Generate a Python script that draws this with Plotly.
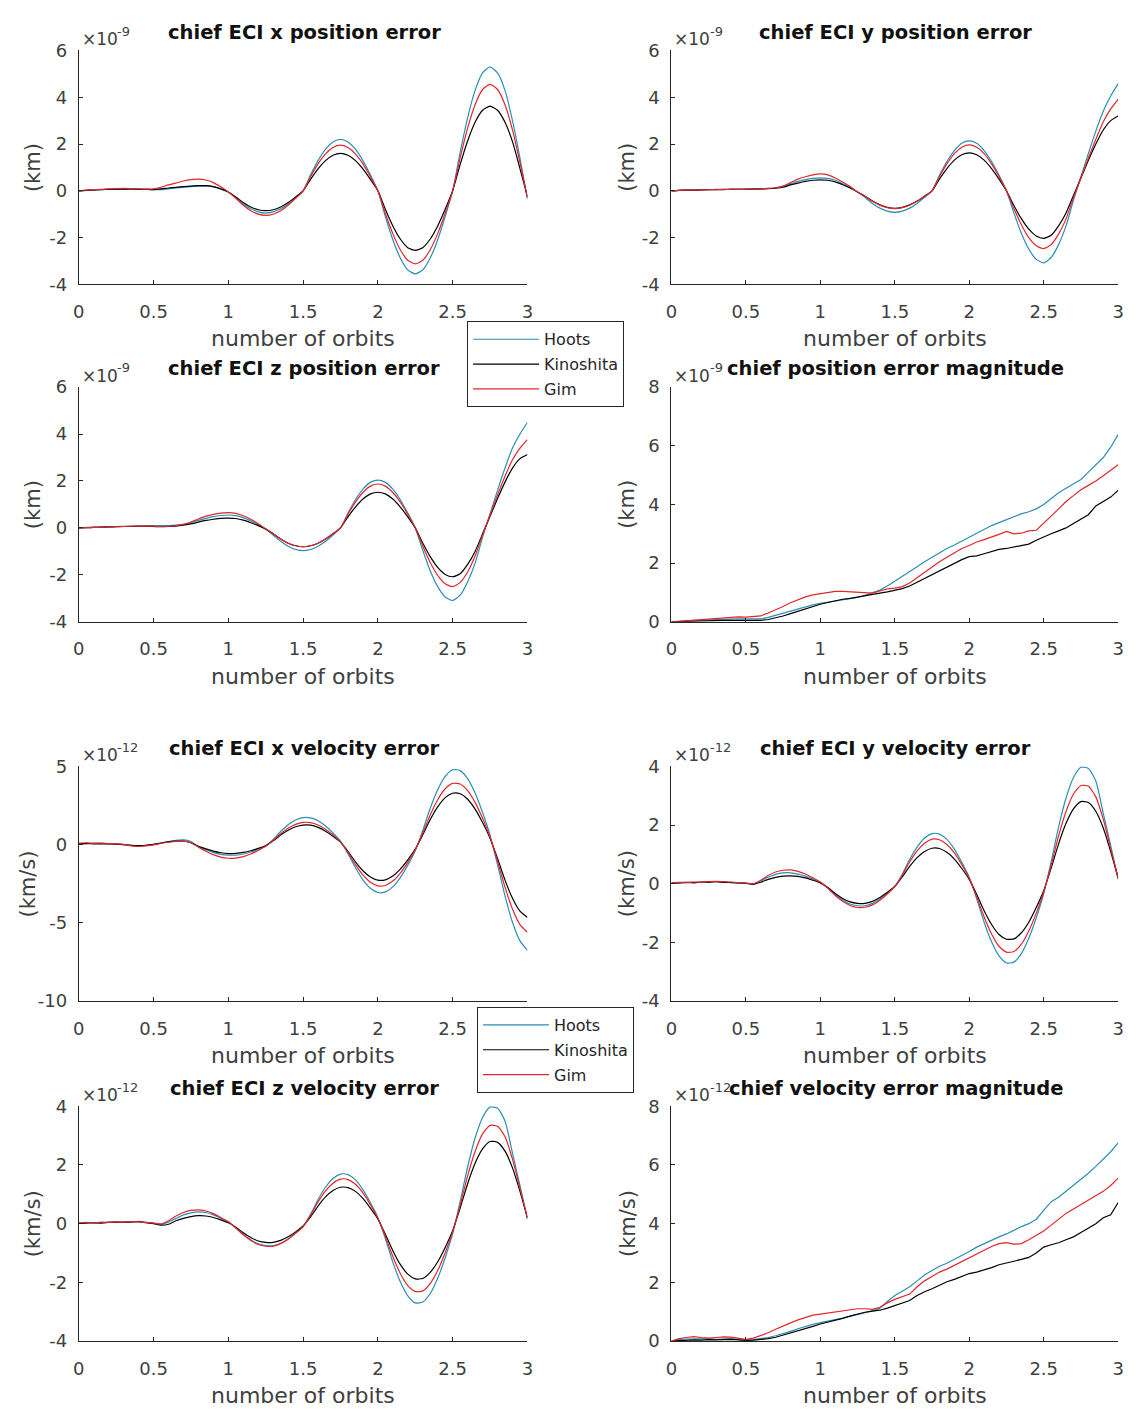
import plotly.graph_objects as go

W, H = 1138, 1420

# ---------------- data ----------------
orbits = [0.0, 0.05, 0.1, 0.15, 0.2, 0.25, 0.3, 0.35, 0.4, 0.45,
          0.5, 0.55, 0.6, 0.65, 0.7, 0.75, 0.8, 0.85, 0.9, 0.95,
          1.0, 1.05, 1.1, 1.15, 1.2, 1.25, 1.3, 1.35, 1.4, 1.45,
          1.5, 1.55, 1.6, 1.65, 1.7, 1.75, 1.8, 1.85, 1.9, 1.95,
          2.0, 2.05, 2.1, 2.15, 2.2, 2.25, 2.3, 2.35, 2.4, 2.45,
          2.5, 2.55, 2.6, 2.65, 2.7, 2.75, 2.8, 2.85, 2.9, 2.95,
          3.0]

series_names = ["Hoots", "Kinoshita", "Gim"]
x_ticks = [0, 0.5, 1, 1.5, 2, 2.5, 3]
x_ticktext = ["0", "0.5", "1", "1.5", "2", "2.5", "3"]

# chief ECI x position error (x 1e-9 km)
pos_x_hoots = [0.0, 0.02, 0.03, 0.05, 0.06, 0.06, 0.07, 0.07, 0.07, 0.06,
               0.05, 0.05, 0.08, 0.12, 0.15, 0.18, 0.2, 0.2, 0.17, 0.08,
               -0.05, -0.29, -0.56, -0.77, -0.9, -0.95, -0.9, -0.77, -0.56, -0.29,
               0.0, 0.68, 1.29, 1.78, 2.09, 2.2, 2.09, 1.78, 1.29, 0.68,
               0.0, -1.1, -2.09, -2.87, -3.38, -3.55, -3.38, -2.87, -2.09, -1.1,
               0.0, 1.64, 3.12, 4.29, 5.04, 5.3, 5.04, 4.29, 3.0, 1.4,
               -0.35]
pos_x_kinoshita = [0.0, 0.02, 0.04, 0.05, 0.06, 0.07, 0.07, 0.08, 0.07, 0.06,
                   0.05, 0.08, 0.12, 0.15, 0.18, 0.2, 0.22, 0.22, 0.18, 0.08,
                   -0.05, -0.26, -0.5, -0.69, -0.81, -0.85, -0.81, -0.69, -0.5, -0.26,
                   0.0, 0.49, 0.94, 1.29, 1.52, 1.6, 1.52, 1.29, 0.94, 0.49,
                   0.0, -0.79, -1.5, -2.06, -2.43, -2.55, -2.43, -2.06, -1.5, -0.79,
                   0.0, 1.12, 2.13, 2.93, 3.44, 3.62, 3.44, 2.93, 2.1, 0.95,
                   -0.25]
pos_x_gim = [0.0, 0.03, 0.05, 0.06, 0.08, 0.09, 0.1, 0.09, 0.08, 0.07,
             0.08, 0.15, 0.25, 0.33, 0.42, 0.48, 0.5, 0.46, 0.35, 0.17,
             -0.05, -0.32, -0.62, -0.85, -1.0, -1.05, -1.0, -0.85, -0.62, -0.32,
             0.0, 0.6, 1.15, 1.58, 1.85, 1.95, 1.85, 1.58, 1.15, 0.6,
             0.0, -0.96, -1.83, -2.52, -2.97, -3.12, -2.97, -2.52, -1.83, -0.96,
             0.0, 1.41, 2.68, 3.68, 4.33, 4.55, 4.33, 3.68, 2.6, 1.2,
             -0.3]

# chief ECI y position error (x 1e-9 km)
pos_y_hoots = [0.0, 0.02, 0.03, 0.04, 0.05, 0.05, 0.06, 0.06, 0.07, 0.07,
               0.07, 0.08, 0.09, 0.1, 0.12, 0.2, 0.3, 0.4, 0.48, 0.53,
               0.55, 0.53, 0.45, 0.3, 0.15, -0.05, -0.28, -0.54, -0.74, -0.87,
               -0.92, -0.87, -0.74, -0.54, -0.28, 0.0, 0.66, 1.25, 1.72, 2.03,
               2.13, 2.03, 1.72, 1.25, 0.66, 0.0, -0.95, -1.81, -2.49, -2.93,
               -3.08, -2.85, -2.3, -1.5, -0.4, 0.6, 1.6, 2.55, 3.4, 4.05,
               4.58]
pos_y_kinoshita = [0.0, 0.02, 0.03, 0.03, 0.04, 0.05, 0.05, 0.05, 0.06, 0.06,
                   0.06, 0.07, 0.08, 0.09, 0.11, 0.15, 0.25, 0.33, 0.4, 0.45,
                   0.47, 0.45, 0.38, 0.26, 0.12, -0.05, -0.23, -0.44, -0.6, -0.71,
                   -0.75, -0.71, -0.6, -0.44, -0.23, 0.0, 0.5, 0.95, 1.31, 1.54,
                   1.62, 1.54, 1.31, 0.95, 0.5, 0.0, -0.63, -1.19, -1.64, -1.93,
                   -2.03, -1.9, -1.5, -0.95, -0.2, 0.55, 1.3, 2.0, 2.6, 3.0,
                   3.2]
pos_y_gim = [0.0, 0.02, 0.03, 0.04, 0.04, 0.05, 0.05, 0.06, 0.06, 0.06,
             0.07, 0.07, 0.08, 0.1, 0.13, 0.2, 0.35, 0.5, 0.6, 0.68,
             0.72, 0.68, 0.55, 0.38, 0.18, -0.05, -0.23, -0.45, -0.61, -0.72,
             -0.76, -0.72, -0.61, -0.45, -0.23, 0.0, 0.61, 1.15, 1.59, 1.86,
             1.96, 1.86, 1.59, 1.15, 0.61, 0.0, -0.76, -1.45, -2.0, -2.35,
             -2.47, -2.3, -1.85, -1.2, -0.3, 0.55, 1.4, 2.2, 2.95, 3.5,
             3.91]

# chief ECI z position error (x 1e-9 km)
pos_z_hoots = [0.0, 0.02, 0.03, 0.04, 0.05, 0.06, 0.07, 0.08, 0.08, 0.09,
               0.1, 0.1, 0.1, 0.12, 0.15, 0.22, 0.32, 0.41, 0.48, 0.53,
               0.55, 0.52, 0.44, 0.3, 0.14, -0.06, -0.3, -0.57, -0.78, -0.92,
               -0.97, -0.92, -0.78, -0.57, -0.3, 0.0, 0.63, 1.2, 1.65, 1.94,
               2.04, 1.94, 1.65, 1.2, 0.63, 0.0, -0.95, -1.82, -2.5, -2.94,
               -3.09, -2.86, -2.3, -1.5, -0.4, 0.6, 1.6, 2.55, 3.4, 4.0,
               4.5]
pos_z_kinoshita = [0.0, 0.01, 0.02, 0.03, 0.04, 0.05, 0.06, 0.06, 0.07, 0.07,
                   0.06, 0.05, 0.06, 0.08, 0.12, 0.17, 0.25, 0.32, 0.37, 0.41,
                   0.42, 0.4, 0.33, 0.22, 0.1, -0.05, -0.25, -0.47, -0.65, -0.76,
                   -0.8, -0.76, -0.65, -0.47, -0.25, 0.0, 0.47, 0.89, 1.23, 1.45,
                   1.52, 1.45, 1.23, 0.89, 0.47, 0.0, -0.64, -1.22, -1.68, -1.98,
                   -2.08, -1.95, -1.55, -1.0, -0.25, 0.5, 1.25, 1.95, 2.55, 2.95,
                   3.13]
pos_z_gim = [0.0, 0.01, 0.02, 0.03, 0.04, 0.05, 0.06, 0.07, 0.08, 0.08,
             0.07, 0.06, 0.07, 0.1, 0.15, 0.25, 0.38, 0.5, 0.58, 0.63,
             0.65, 0.62, 0.52, 0.37, 0.18, -0.04, -0.25, -0.47, -0.65, -0.76,
             -0.8, -0.76, -0.65, -0.47, -0.25, 0.0, 0.58, 1.1, 1.51, 1.78,
             1.87, 1.78, 1.51, 1.1, 0.58, 0.0, -0.77, -1.47, -2.02, -2.38,
             -2.5, -2.32, -1.88, -1.2, -0.3, 0.55, 1.4, 2.2, 2.9, 3.4,
             3.76]

# chief position error magnitude (x 1e-9 km)
pos_mag_hoots = [0.0, 0.02, 0.03, 0.05, 0.06, 0.07, 0.08, 0.1, 0.1, 0.1,
                 0.1, 0.09, 0.1, 0.15, 0.22, 0.3, 0.38, 0.45, 0.52, 0.58,
                 0.63, 0.67, 0.72, 0.75, 0.78, 0.83, 0.9, 0.98, 1.08, 1.22,
                 1.38, 1.55, 1.72, 1.88, 2.05, 2.2, 2.35, 2.5, 2.62, 2.75,
                 2.9, 3.02, 3.15, 3.28, 3.38, 3.48, 3.58, 3.68, 3.75, 3.85,
                 4.0, 4.2, 4.4, 4.55, 4.7, 4.85, 5.1, 5.35, 5.6, 5.95,
                 6.38]
pos_mag_kinoshita = [0.0, 0.01, 0.02, 0.03, 0.04, 0.05, 0.05, 0.05, 0.05, 0.05,
                     0.05, 0.04, 0.05, 0.08, 0.13, 0.2, 0.28, 0.36, 0.45, 0.53,
                     0.6, 0.66, 0.72, 0.77, 0.8, 0.85, 0.9, 0.95, 0.98, 1.02,
                     1.07, 1.13, 1.22, 1.35, 1.48, 1.6, 1.75, 1.88, 2.0, 2.12,
                     2.22, 2.25, 2.32, 2.4, 2.47, 2.5, 2.55, 2.58, 2.65, 2.78,
                     2.9, 3.0, 3.1, 3.2, 3.35, 3.5, 3.65, 3.95, 4.1, 4.25,
                     4.48]
pos_mag_gim = [0.0, 0.02, 0.04, 0.07, 0.09, 0.1, 0.12, 0.15, 0.17, 0.17,
               0.16, 0.17, 0.2, 0.3, 0.4, 0.52, 0.65, 0.76, 0.85, 0.92,
               0.96, 1.0, 1.04, 1.04, 1.02, 1.02, 1.0, 0.98, 1.05, 1.12,
               1.15, 1.2, 1.32, 1.5, 1.7, 1.88, 2.05, 2.2, 2.35, 2.5,
               2.6, 2.72, 2.8, 2.88, 2.98, 3.08, 3.0, 3.02, 3.1, 3.12,
               3.35, 3.6, 3.85, 4.1, 4.3, 4.5, 4.65, 4.8, 4.98, 5.15,
               5.35]

# chief ECI x velocity error (x 1e-12 km/s)
vel_x_hoots = [0.05, 0.08, 0.1, 0.08, 0.05, 0.03, 0.0, -0.05, -0.08, -0.05,
               0.0, 0.1, 0.2, 0.28, 0.3, 0.2, -0.13, -0.33, -0.5, -0.62,
               -0.67, -0.67, -0.6, -0.47, -0.29, -0.09, 0.33, 0.84, 1.27, 1.57,
               1.73, 1.71, 1.52, 1.19, 0.74, 0.22, -0.58, -1.48, -2.25, -2.79,
               -3.06, -3.02, -2.7, -2.11, -1.31, -0.39, 0.9, 2.32, 3.51, 4.36,
               4.78, 4.73, 4.22, 3.3, 2.05, 0.6, -1.27, -3.28, -4.96, -6.15,
               -6.75]
vel_x_kinoshita = [0.05, 0.06, 0.05, 0.05, 0.04, 0.03, 0.0, -0.04, -0.06, -0.04,
                   0.02, 0.1, 0.18, 0.22, 0.22, 0.12, -0.11, -0.27, -0.42, -0.52,
                   -0.57, -0.56, -0.5, -0.39, -0.24, -0.07, 0.24, 0.61, 0.92, 1.14,
                   1.25, 1.24, 1.1, 0.86, 0.54, 0.16, -0.43, -1.1, -1.67, -2.07,
                   -2.27, -2.25, -2.01, -1.57, -0.98, -0.29, 0.62, 1.6, 2.41, 3.0,
                   3.28, 3.25, 2.9, 2.27, 1.41, 0.41, -0.88, -2.27, -3.43, -4.25,
                   -4.65]
vel_x_gim = [0.1, 0.12, 0.08, 0.1, 0.06, 0.05, 0.02, -0.08, -0.12, -0.08,
             -0.02, 0.08, 0.15, 0.2, 0.22, 0.12, -0.16, -0.42, -0.64, -0.8,
             -0.87, -0.86, -0.77, -0.6, -0.37, -0.11, 0.27, 0.69, 1.04, 1.29,
             1.42, 1.4, 1.25, 0.98, 0.61, 0.18, -0.5, -1.28, -1.94, -2.41,
             -2.64, -2.61, -2.33, -1.82, -1.13, -0.33, 0.74, 1.9, 2.87, 3.57,
             3.91, 3.87, 3.45, 2.7, 1.68, 0.49, -1.06, -2.72, -4.12, -5.11,
             -5.6]

# chief ECI y velocity error (x 1e-12 km/s)
vel_y_hoots = [0.02, 0.03, 0.04, 0.03, 0.05, 0.06, 0.07, 0.06, 0.05, 0.03,
               0.02, 0.0, 0.1, 0.22, 0.32, 0.37, 0.37, 0.33, 0.26, 0.16,
               0.05, -0.14, -0.37, -0.55, -0.69, -0.75, -0.75, -0.67, -0.52, -0.32,
               -0.1, 0.32, 0.83, 1.25, 1.56, 1.71, 1.69, 1.51, 1.18, 0.73,
               0.22, -0.51, -1.31, -1.98, -2.46, -2.7, -2.67, -2.38, -1.86, -1.16,
               -0.34, 0.75, 1.93, 2.92, 3.62, 3.97, 3.93, 3.5, 2.4, 1.3,
               0.15]
vel_y_kinoshita = [0.02, 0.03, 0.05, 0.04, 0.06, 0.05, 0.07, 0.05, 0.04, 0.03,
                   0.01, -0.02, 0.05, 0.15, 0.22, 0.26, 0.27, 0.25, 0.2, 0.12,
                   0.03, -0.13, -0.33, -0.5, -0.62, -0.67, -0.67, -0.6, -0.47, -0.29,
                   -0.09, 0.23, 0.59, 0.89, 1.1, 1.21, 1.2, 1.07, 0.84, 0.52,
                   0.15, -0.36, -0.92, -1.39, -1.73, -1.89, -1.88, -1.67, -1.31, -0.81,
                   -0.24, 0.53, 1.36, 2.06, 2.55, 2.8, 2.77, 2.47, 1.9, 1.1,
                   0.2]
vel_y_gim = [0.03, 0.05, 0.04, 0.06, 0.05, 0.07, 0.08, 0.07, 0.06, 0.04,
             0.02, 0.0, 0.12, 0.28, 0.4, 0.46, 0.47, 0.42, 0.33, 0.2,
             0.06, -0.15, -0.4, -0.6, -0.74, -0.81, -0.8, -0.72, -0.56, -0.35,
             -0.1, 0.29, 0.74, 1.12, 1.38, 1.52, 1.5, 1.34, 1.05, 0.65,
             0.19, -0.44, -1.13, -1.71, -2.13, -2.33, -2.31, -2.06, -1.61, -1.0,
             -0.29, 0.63, 1.63, 2.46, 3.06, 3.35, 3.32, 2.96, 2.2, 1.2,
             0.2]

# chief ECI z velocity error (x 1e-12 km/s)
vel_z_hoots = [0.02, 0.03, 0.02, 0.03, 0.05, 0.04, 0.06, 0.05, 0.08, 0.04,
               0.02, -0.02, 0.05, 0.18, 0.3, 0.37, 0.4, 0.38, 0.3, 0.18,
               0.06, -0.14, -0.37, -0.55, -0.69, -0.75, -0.75, -0.67, -0.52, -0.32,
               -0.1, 0.32, 0.82, 1.24, 1.54, 1.69, 1.67, 1.49, 1.16, 0.72,
               0.21, -0.51, -1.31, -1.98, -2.46, -2.7, -2.67, -2.38, -1.86, -1.16,
               -0.34, 0.75, 1.93, 2.92, 3.62, 3.97, 3.93, 3.5, 2.4, 1.3,
               0.15]
vel_z_kinoshita = [0.01, 0.02, 0.03, 0.02, 0.04, 0.05, 0.04, 0.06, 0.07, 0.03,
                   0.0, -0.05, -0.02, 0.1, 0.18, 0.24, 0.27, 0.26, 0.21, 0.13,
                   0.03, -0.12, -0.31, -0.47, -0.59, -0.64, -0.64, -0.57, -0.45, -0.28,
                   -0.08, 0.23, 0.6, 0.91, 1.13, 1.24, 1.23, 1.1, 0.86, 0.53,
                   0.16, -0.36, -0.92, -1.39, -1.72, -1.88, -1.87, -1.66, -1.3, -0.81,
                   -0.24, 0.53, 1.36, 2.06, 2.55, 2.8, 2.77, 2.47, 1.9, 1.1,
                   0.2]
vel_z_gim = [0.02, 0.04, 0.03, 0.05, 0.04, 0.06, 0.05, 0.07, 0.06, 0.04,
             0.02, -0.01, 0.1, 0.26, 0.38, 0.45, 0.47, 0.43, 0.34, 0.21,
             0.07, -0.15, -0.38, -0.57, -0.71, -0.77, -0.77, -0.68, -0.53, -0.33,
             -0.1, 0.29, 0.74, 1.12, 1.38, 1.52, 1.5, 1.34, 1.05, 0.65,
             0.19, -0.44, -1.12, -1.7, -2.11, -2.31, -2.29, -2.04, -1.6, -0.99,
             -0.29, 0.63, 1.63, 2.46, 3.06, 3.35, 3.32, 2.96, 2.2, 1.2,
             0.2]

# chief velocity error magnitude (x 1e-12 km/s)
vel_mag_hoots = [0.0, 0.05, 0.07, 0.08, 0.07, 0.08, 0.06, 0.07, 0.08, 0.06,
                 0.03, 0.05, 0.08, 0.12, 0.18, 0.25, 0.33, 0.42, 0.5, 0.57,
                 0.63, 0.68, 0.72, 0.78, 0.85, 0.9, 0.97, 1.03, 1.12, 1.35,
                 1.55, 1.7, 1.85, 2.05, 2.25, 2.4, 2.55, 2.65, 2.78, 2.92,
                 3.05, 3.2, 3.32, 3.45, 3.55, 3.65, 3.78, 3.9, 4.0, 4.15,
                 4.45, 4.75, 4.9, 5.1, 5.3, 5.5, 5.72, 5.95, 6.2, 6.45,
                 6.75]
vel_mag_kinoshita = [0.0, 0.02, 0.03, 0.04, 0.03, 0.05, 0.04, 0.05, 0.06, 0.04,
                     0.02, 0.03, 0.05, 0.08, 0.13, 0.2, 0.28, 0.35, 0.42, 0.5,
                     0.58, 0.64, 0.7, 0.77, 0.85, 0.92, 0.98, 1.02, 1.05, 1.12,
                     1.2, 1.3, 1.38, 1.55, 1.68, 1.78, 1.9, 2.02, 2.1, 2.2,
                     2.3, 2.35, 2.42, 2.5, 2.6, 2.65, 2.72, 2.78, 2.85, 3.0,
                     3.2, 3.28, 3.35, 3.45, 3.55, 3.7, 3.85, 4.0, 4.2, 4.3,
                     4.72]
vel_mag_gim = [0.0, 0.08, 0.12, 0.15, 0.12, 0.1, 0.12, 0.14, 0.13, 0.1,
               0.06, 0.1, 0.18, 0.28, 0.4, 0.52, 0.62, 0.72, 0.8, 0.88,
               0.92, 0.96, 1.0, 1.02, 1.08, 1.1, 1.1, 1.08, 1.15, 1.3,
               1.42, 1.5, 1.6, 1.85, 2.05, 2.2, 2.35, 2.45, 2.58, 2.7,
               2.82, 2.95, 3.08, 3.22, 3.32, 3.35, 3.3, 3.32, 3.45, 3.6,
               3.75, 3.95, 4.15, 4.35, 4.5, 4.65, 4.8, 4.95, 5.1, 5.3,
               5.55]

# ---------------- styling ----------------
colors = {"Hoots": "#2a8fb4", "Kinoshita": "#000000", "Gim": "#e3262a"}
FONT = "DejaVu Sans"
AX = "#262626"
TXT = "#404040"

col_px = [(73.5, 527), (672.5, 1124)]
row_px = [(40, 277.5), (381.7, 620), (766.7, 1005), (1111.7, 1350)]


def px_x(p):
    return p / W


def px_y(p):
    return 1 - p / H


panels = [
    dict(title="chief ECI x position error", unit="(km)", exp="-9", yr=(-4, 6),
         yt=[-4, -2, 0, 2, 4, 6], data=(pos_x_hoots, pos_x_kinoshita, pos_x_gim),
         rc=(0, 0), shape="spline", ulx=28),
    dict(title="chief ECI y position error", unit="(km)", exp="-9", yr=(-4, 6),
         yt=[-4, -2, 0, 2, 4, 6], data=(pos_y_hoots, pos_y_kinoshita, pos_y_gim),
         rc=(0, 1), shape="spline", ulx=628),
    dict(title="chief ECI z position error", unit="(km)", exp="-9", yr=(-4, 6),
         yt=[-4, -2, 0, 2, 4, 6], data=(pos_z_hoots, pos_z_kinoshita, pos_z_gim),
         rc=(1, 0), shape="spline", ulx=28),
    dict(title="chief position error magnitude", unit="(km)", exp="-9", yr=(0, 8),
         yt=[0, 2, 4, 6, 8], data=(pos_mag_hoots, pos_mag_kinoshita, pos_mag_gim),
         rc=(1, 1), shape="linear", ulx=628),
    dict(title="chief ECI x velocity error", unit="(km/s)", exp="-12", yr=(-10, 5),
         yt=[-10, -5, 0, 5], data=(vel_x_hoots, vel_x_kinoshita, vel_x_gim),
         rc=(2, 0), shape="spline", ulx=22),
    dict(title="chief ECI y velocity error", unit="(km/s)", exp="-12", yr=(-4, 4),
         yt=[-4, -2, 0, 2, 4], data=(vel_y_hoots, vel_y_kinoshita, vel_y_gim),
         rc=(2, 1), shape="spline", ulx=627),
    dict(title="chief ECI z velocity error", unit="(km/s)", exp="-12", yr=(-4, 4),
         yt=[-4, -2, 0, 2, 4], data=(vel_z_hoots, vel_z_kinoshita, vel_z_gim),
         rc=(3, 0), shape="spline", ulx=27),
    dict(title="chief velocity error magnitude", unit="(km/s)", exp="-12", yr=(0, 8),
         yt=[0, 2, 4, 6, 8], data=(vel_mag_hoots, vel_mag_kinoshita, vel_mag_gim),
         rc=(3, 1), shape="linear", ulx=628),
]

fig = go.Figure()
layout = dict(
    width=W, height=H, autosize=False,
    margin=dict(l=0, r=0, t=0, b=0),
    paper_bgcolor="white", plot_bgcolor="white",
    font=dict(family=FONT, color=TXT),
    showlegend=True,
)
annotations = []

for i, p in enumerate(panels):
    k = i + 1
    xa = "x" if k == 1 else "x%d" % k
    ya = "y" if k == 1 else "y%d" % k
    r, c = p["rc"]
    x0, x1 = col_px[c]
    y0, y1 = row_px[r]

    legend_ref = None
    if k == 1:
        legend_ref = "legend"
    elif k == 5:
        legend_ref = "legend2"

    for name, vals in zip(series_names, p["data"]):
        fig.add_trace(go.Scatter(
            x=orbits, y=vals, mode="lines", name=name,
            line=dict(color=colors[name], width=1.2, shape=p["shape"], smoothing=0.6),
            xaxis=xa, yaxis=ya,
            showlegend=legend_ref is not None,
            legend=legend_ref if legend_ref else "legend",
            legendgroup=name + ("b" if k >= 5 else "a"),
            hoverinfo="skip",
        ))

    axis_common = dict(
        showline=True, linecolor=AX, linewidth=1, mirror=False,
        ticks="inside", ticklen=4, tickcolor=AX, tickwidth=1,
        showgrid=False, zeroline=False,
        tickfont=dict(family=FONT, size=18, color=TXT),
    )
    layout["xaxis" if k == 1 else "xaxis%d" % k] = dict(
        axis_common, domain=[px_x(x0), px_x(x1)], range=[0, 3],
        tickvals=x_ticks, ticktext=x_ticktext, anchor=ya,
        ticklabelstandoff=11,
    )
    layout["yaxis" if k == 1 else "yaxis%d" % k] = dict(
        axis_common, domain=[px_y(y1), px_y(y0)], range=list(p["yr"]),
        tickvals=p["yt"], ticktext=["%g" % v for v in p["yt"]], anchor=xa,
        ticklabelstandoff=7,
    )

    # title
    annotations.append(dict(
        text="<b>%s</b>" % p["title"], xref="paper", yref="paper",
        x=px_x((x0 + x1) / 2 + 1), y=px_y(y0 - 18.5), xanchor="center", yanchor="middle",
        showarrow=False, font=dict(family=FONT, size=19.5, color="#111111"),
    ))
    # exponent "x10" and its superscript
    annotations.append(dict(
        text="\u00d710", xref="paper", yref="paper",
        x=px_x(x0 + 1), y=px_y(y0 - 11.5), xanchor="left", yanchor="middle",
        showarrow=False, font=dict(family=FONT, size=17, color=TXT),
    ))
    annotations.append(dict(
        text=p["exp"], xref="paper", yref="paper",
        x=px_x(x0 + 37), y=px_y(y0 - 19.5), xanchor="left", yanchor="middle",
        showarrow=False, font=dict(family=FONT, size=13, color=TXT),
    ))
    # x label
    annotations.append(dict(
        text="number of orbits", xref="paper", yref="paper",
        x=px_x((x0 + x1) / 2), y=px_y(y1 + 55), xanchor="center", yanchor="middle",
        showarrow=False, font=dict(family=FONT, size=22, color=TXT),
    ))
    # y label
    annotations.append(dict(
        text=p["unit"], xref="paper", yref="paper", textangle=-90,
        x=px_x(p["ulx"]), y=px_y((y0 + y1) / 2), xanchor="center", yanchor="middle",
        showarrow=False, font=dict(family=FONT, size=21, color=TXT),
    ))

legend_common = dict(
    xanchor="left", yanchor="top", bgcolor="white",
    bordercolor=AX, borderwidth=1,
    font=dict(family=FONT, size=16, color="#262626"),
    tracegroupgap=1, itemwidth=66, traceorder="grouped",
)
layout["legend"] = dict(legend_common, x=px_x(466), y=px_y(315))
layout["legend2"] = dict(legend_common, x=px_x(476), y=px_y(1011))
layout["annotations"] = annotations

fig.update_layout(**layout)
fig.write_html(
    "out.html",
    config={"displayModeBar": False},
    post_script="document.body.style.margin='0';document.body.style.padding='0';"
                "document.documentElement.style.margin='0';",
)
